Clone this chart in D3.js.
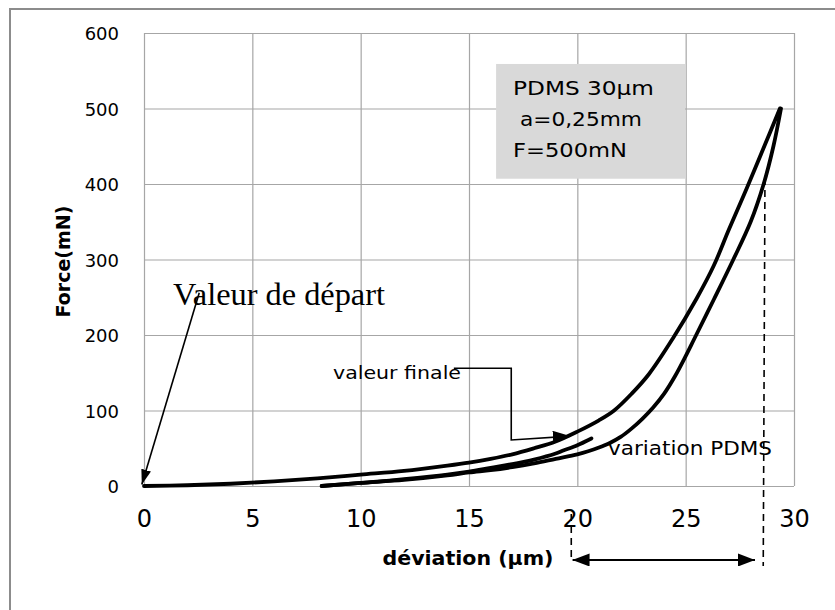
<!DOCTYPE html>
<html><head><meta charset="utf-8">
<script src="https://cdn.jsdelivr.net/npm/d3@7"></script>
<style>html,body{margin:0;padding:0;background:#fff;}svg{display:block;}</style>
</head><body>
<script>
// ---- data ----
const xTicks = [0, 5, 10, 15, 20, 25, 30];
const yTicks = [0, 100, 200, 300, 400, 500, 600];
// loading branch (charge) : deviation (µm), force (mN)
const chargeX = [0, 2, 4, 6, 8, 10, 12, 14, 15, 16, 17, 18, 19, 20, 21, 21.7, 22.5, 23.3, 24.4, 25.5, 26.3, 27.0, 27.8, 28.6, 29.35];
const chargeF = [0, 1, 3, 6, 10, 15, 20, 27, 31, 36, 42, 50, 59, 72, 87, 100, 122, 148, 195, 248, 292, 340, 393, 448, 500];
// unloading branch (décharge)
const dechargeX = [29.4, 29.05, 28.6, 28.0, 27.2, 26.3, 25.4, 25.0, 24.5, 24.0, 23.5, 23.0, 22.5, 22.0, 21.5, 21.0, 20.5, 20, 19, 18, 17, 16, 15, 14, 12, 10, 8.2];
const dechargeF = [500, 450, 400, 350, 300, 247, 195, 172, 145, 122, 104, 89, 76, 65, 57, 51, 46, 42, 36, 30, 25, 21, 18, 14, 8, 4, 0];
// return branch ending at the final value
const retourX = [8.2, 10, 12, 14, 15, 16, 17, 18, 19, 19.35, 20, 20.65];
const retourF = [0, 4, 9, 15, 19, 24, 29, 35, 43, 47, 54, 63];
const boxLines = ["PDMS 30µm", " a=0,25mm", "F=500mN"];

const W = 835, H = 610;
const svg = d3.select("body").append("svg").attr("width", W).attr("height", H);

// outer frame
svg.append("rect").attr("x", 10).attr("y", 9).attr("width", 840).attr("height", 620)
  .attr("fill", "none").attr("stroke", "#8c8c8c").attr("stroke-width", 2);

const x = d3.scaleLinear().domain([0, 30]).range([144, 794]);
const y = d3.scaleLinear().domain([0, 600]).range([486, 33]);

const defs = svg.append("defs");
function marker(id, len, wid) {
  defs.append("marker").attr("id", id).attr("viewBox", `0 0 ${len} ${wid}`)
    .attr("refX", len).attr("refY", wid / 2).attr("markerWidth", len).attr("markerHeight", wid)
    .attr("markerUnits", "userSpaceOnUse").attr("orient", "auto-start-reverse")
    .append("path").attr("d", `M0,0L${len},${wid / 2}L0,${wid}Z`).attr("fill", "#000");
}
marker("a1", 15, 10);
marker("a2", 18, 13);
marker("a3", 17, 13);

// grid + axes
const gy = svg.append("g").attr("transform", `translate(${x(0)},0)`)
  .call(d3.axisLeft(y).tickValues(yTicks).tickSize(-(x(30) - x(0))).tickPadding(25));
const gx = svg.append("g").attr("transform", `translate(0,${y(0)})`)
  .call(d3.axisBottom(x).tickValues(xTicks).tickSize(-(y(0) - y(600))).tickPadding(24));
[gx, gy].forEach(g => {
  g.select(".domain").remove();
  g.selectAll(".tick line").attr("stroke", "#a6a6a6").attr("stroke-width", 1.2);
  g.selectAll(".tick text").attr("fill", "#000").attr("font-family", "DejaVu Sans");
});
gy.selectAll(".tick text").attr("font-size", 18).attr("dy", "0.38em");
gx.selectAll(".tick text").attr("font-size", 24).attr("dy", "0.71em");

// axis titles
svg.append("text").attr("transform", `translate(70,${y(300) + 2}) rotate(-90)`)
  .attr("text-anchor", "middle").attr("font-family", "DejaVu Sans").attr("font-weight", "bold")
  .attr("font-size", 19).text("Force(mN)");
svg.append("text").attr("x", 468).attr("y", 565).attr("text-anchor", "middle")
  .attr("font-family", "DejaVu Sans").attr("font-weight", "bold").attr("font-size", 20)
  .attr("textLength", 171).attr("lengthAdjust", "spacingAndGlyphs").text("déviation (µm)");

// info box
const bx = 16.25, bTop = 559, bRight = 24.97, bBottom = 407;
svg.append("rect").attr("x", x(bx)).attr("y", y(bTop)).attr("width", x(bRight) - x(bx))
  .attr("height", y(bBottom) - y(bTop)).attr("fill", "#d9d9d9");
const boxLens = [141, 129, 114];
boxLines.forEach((t, i) => {
  svg.append("text").attr("x", 513).attr("y", 95 + i * 31).attr("font-family", "DejaVu Sans")
    .attr("font-size", 20).attr("textLength", boxLens[i]).attr("lengthAdjust", "spacingAndGlyphs")
    .attr("xml:space", "preserve").style("white-space", "pre").text(t);
});

// curves
const line = d3.line().x(d => x(d[0])).y(d => y(d[1])).curve(d3.curveCatmullRom.alpha(0.5));
const series = [
  d3.zip(chargeX, chargeF),
  d3.zip(dechargeX, dechargeF),
  d3.zip(retourX, retourF)
];
svg.selectAll("path.curve").data(series).join("path").attr("class", "curve")
  .attr("d", line).attr("fill", "none").attr("stroke", "#000").attr("stroke-width", 3.8)
  .attr("stroke-linejoin", "round").attr("stroke-linecap", "round");

// annotation: Valeur de départ
svg.append("text").attr("x", 173).attr("y", 305).attr("font-family", "Liberation Serif")
  .attr("font-size", 31).attr("textLength", 212).attr("lengthAdjust", "spacingAndGlyphs")
  .text("Valeur de départ");
svg.append("line").attr("x1", x(2.55)).attr("y1", y(256)).attr("x2", x(-0.1)).attr("y2", y(2))
  .attr("stroke", "#000").attr("stroke-width", 1.6).attr("marker-end", "url(#a1)");

// annotation: valeur finale
svg.append("text").attr("x", 333).attr("y", 379).attr("font-family", "DejaVu Sans")
  .attr("font-size", 17).attr("textLength", 128).attr("lengthAdjust", "spacingAndGlyphs")
  .text("valeur finale");
svg.append("path").attr("d", d3.line()([[x(14.3), y(156)], [x(16.95), y(156)], [x(16.95), y(61)], [x(19.7), y(66)]]))
  .attr("fill", "none").attr("stroke", "#000").attr("stroke-width", 1.6).attr("marker-end", "url(#a2)");

// annotation: variation PDMS
svg.append("text").attr("x", 608).attr("y", 455).attr("font-family", "DejaVu Sans")
  .attr("font-size", 20).attr("textLength", 164).attr("lengthAdjust", "spacingAndGlyphs")
  .text("variation PDMS");
svg.append("line").attr("x1", x(28.66)).attr("y1", y(408)).attr("x2", x(28.58)).attr("y2", y(-106))
  .attr("stroke", "#000").attr("stroke-width", 1.6).attr("stroke-dasharray", "7,5");
svg.append("line").attr("x1", x(19.72)).attr("y1", y(-37)).attr("x2", x(19.72)).attr("y2", y(-98))
  .attr("stroke", "#000").attr("stroke-width", 1.6).attr("stroke-dasharray", "7,5");
svg.append("line").attr("x1", x(19.78)).attr("y1", y(-98)).attr("x2", x(28.2)).attr("y2", y(-98))
  .attr("stroke", "#000").attr("stroke-width", 2.2)
  .attr("marker-start", "url(#a3)").attr("marker-end", "url(#a3)");
</script>
</body></html>
